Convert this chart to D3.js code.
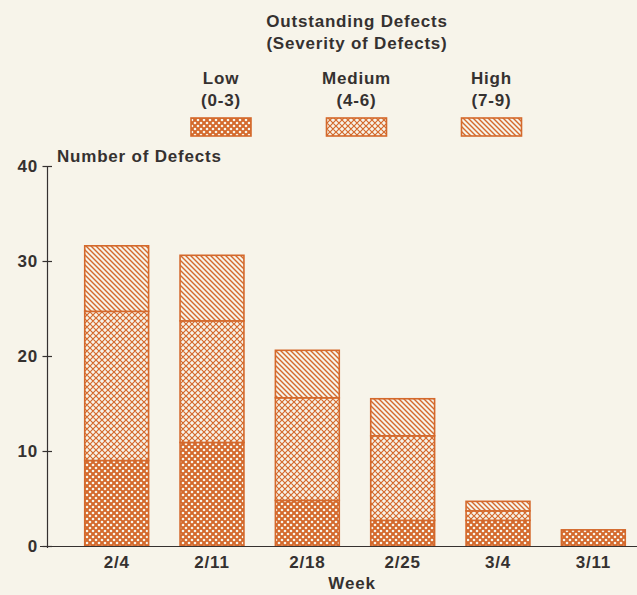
<!DOCTYPE html>
<html>
<head>
<meta charset="utf-8">
<script src="https://cdn.jsdelivr.net/npm/d3@7"></script>
<style>
  html, body { margin: 0; padding: 0; background: #f7f4ea; }
  svg { display: block; }
  text { font-family: "Liberation Sans", Arial, sans-serif; fill: #353130; font-weight: bold; letter-spacing: 0.8px; }
</style>
</head>
<body>
<svg id="chart" width="637" height="595"></svg>
<script>
// ---- Data ----
const weeks = ["2/4", "2/11", "2/18", "2/25", "3/4", "3/11"];
const lowValues    = [9.0, 10.9, 4.8, 2.7, 2.7, 1.7];
const mediumValues = [15.7, 12.8, 10.8, 8.9, 1.0, 0];
const highValues   = [6.9, 6.9, 5.0, 3.9, 1.0, 0];
const yTicks = [0, 10, 20, 30, 40];
const severityNames = ["Low", "Medium", "High"];
const severityRanges = ["(0-3)", "(4-6)", "(7-9)"];

// ---- Setup ----
const W = 637, H = 595;
const ORANGE = "#d4692c";
const PAPER = "#f7f4ea";
const INK = "#353130";
const svg = d3.select("#chart");
svg.append("rect").attr("width", W).attr("height", H).attr("fill", PAPER);

// patterns
const defs = svg.append("defs");
const pLow = defs.append("pattern").attr("id", "pLow").attr("patternUnits", "userSpaceOnUse")
  .attr("width", 6).attr("height", 6);
pLow.append("rect").attr("width", 6).attr("height", 6).attr("fill", ORANGE);
[[0,0],[6,0],[0,6],[6,6],[3,3]].forEach(([cx,cy]) =>
  pLow.append("circle").attr("cx", cx).attr("cy", cy).attr("r", 1.3).attr("fill", PAPER));
const pMed = defs.append("pattern").attr("id", "pMed").attr("patternUnits", "userSpaceOnUse")
  .attr("width", 6).attr("height", 6);
pMed.append("rect").attr("width", 6).attr("height", 6).attr("fill", PAPER);
pMed.append("path").attr("d", "M0,0L6,6M6,0L0,6M-3,3L3,9M3,-3L9,3M-3,3L3,-3M3,9L9,3")
  .attr("stroke", ORANGE).attr("stroke-width", 1.2).attr("fill", "none");
const pHigh = defs.append("pattern").attr("id", "pHigh").attr("patternUnits", "userSpaceOnUse")
  .attr("width", 5).attr("height", 5);
pHigh.append("rect").attr("width", 5).attr("height", 5).attr("fill", PAPER);
pHigh.append("path").attr("d", "M0,0L5,5M-2.5,2.5L2.5,7.5M2.5,-2.5L7.5,2.5")
  .attr("stroke", ORANGE).attr("stroke-width", 1.4).attr("fill", "none");
const fills = ["url(#pLow)", "url(#pMed)", "url(#pHigh)"];

// scales
const x = d3.scaleBand().domain(weeks).range([69, 641]).paddingInner(0.33).paddingOuter(0.165);
const y = d3.scaleLinear().domain([0, 40]).range([546, 166]);

// stacked data
const rows = weeks.map((w, i) => ({ week: w, Low: lowValues[i], Medium: mediumValues[i], High: highValues[i] }));
const stack = d3.stack().keys(severityNames)(rows);

const g = svg.append("g");
stack.forEach((layer, li) => {
  g.selectAll(null).data(layer.filter(d => d[1] - d[0] > 0)).join("rect")
    .attr("x", d => x(d.data.week))
    .attr("width", x.bandwidth())
    .attr("y", d => y(d[1]))
    .attr("height", d => y(d[0]) - y(d[1]))
    .attr("fill", fills[li])
    .attr("stroke", ORANGE)
    .attr("stroke-width", 1.6);
});

// y axis
const yAxis = d3.axisLeft(y).tickValues(yTicks).tickSizeInner(5).tickSizeOuter(0).tickPadding(4.5);
const ya = svg.append("g").attr("transform", "translate(47.5,0)").call(yAxis);
ya.attr("font-family", null).attr("font-size", null);
ya.select(".domain").remove();
ya.selectAll(".tick line").attr("x1", 4.5).attr("stroke", INK).attr("stroke-width", 1.2);
ya.selectAll(".tick text").style("font-size", "17px").attr("fill", INK);
svg.append("line").attr("x1", 47.5).attr("x2", 47.5).attr("y1", y(40)).attr("y2", y(0) + 2)
  .attr("stroke", INK).attr("stroke-width", 1.2);

// x axis
const xAxis = d3.axisBottom(x).tickSize(0).tickPadding(10);
const xa = svg.append("g").attr("transform", `translate(0,${y(0)})`).call(xAxis);
xa.attr("font-family", null).attr("font-size", null);
xa.select(".domain").remove();
xa.selectAll(".tick text").style("font-size", "17px").attr("fill", INK);
svg.append("line").attr("x1", 40).attr("x2", W).attr("y1", y(0) + 0.5).attr("y2", y(0) + 0.5)
  .attr("stroke", INK).attr("stroke-width", 1.2);

// axis titles
svg.append("text").attr("x", 57).attr("y", 162).text("Number of Defects")
  .style("font-size", "17px");
svg.append("text").attr("x", 352).attr("y", 589).attr("text-anchor", "middle").text("Week")
  .style("font-size", "17px");

// title
svg.append("text").attr("x", 357).attr("y", 27).attr("text-anchor", "middle").text("Outstanding Defects")
  .style("font-size", "17px");
svg.append("text").attr("x", 357).attr("y", 49).attr("text-anchor", "middle").text("(Severity of Defects)")
  .style("font-size", "17px");

// legend
const legendCenters = [221, 356.5, 491.5];
const legend = svg.append("g");
severityNames.forEach((name, i) => {
  const cx = legendCenters[i];
  legend.append("text").attr("x", cx).attr("y", 84).attr("text-anchor", "middle").text(name)
    .style("font-size", "17px");
  legend.append("text").attr("x", cx).attr("y", 106).attr("text-anchor", "middle").text(severityRanges[i])
    .style("font-size", "17px");
  legend.append("rect").attr("x", cx - 30).attr("y", 118).attr("width", 60).attr("height", 18)
    .attr("fill", fills[i]).attr("stroke", ORANGE).attr("stroke-width", 1.6);
});
</script>
</body>
</html>
